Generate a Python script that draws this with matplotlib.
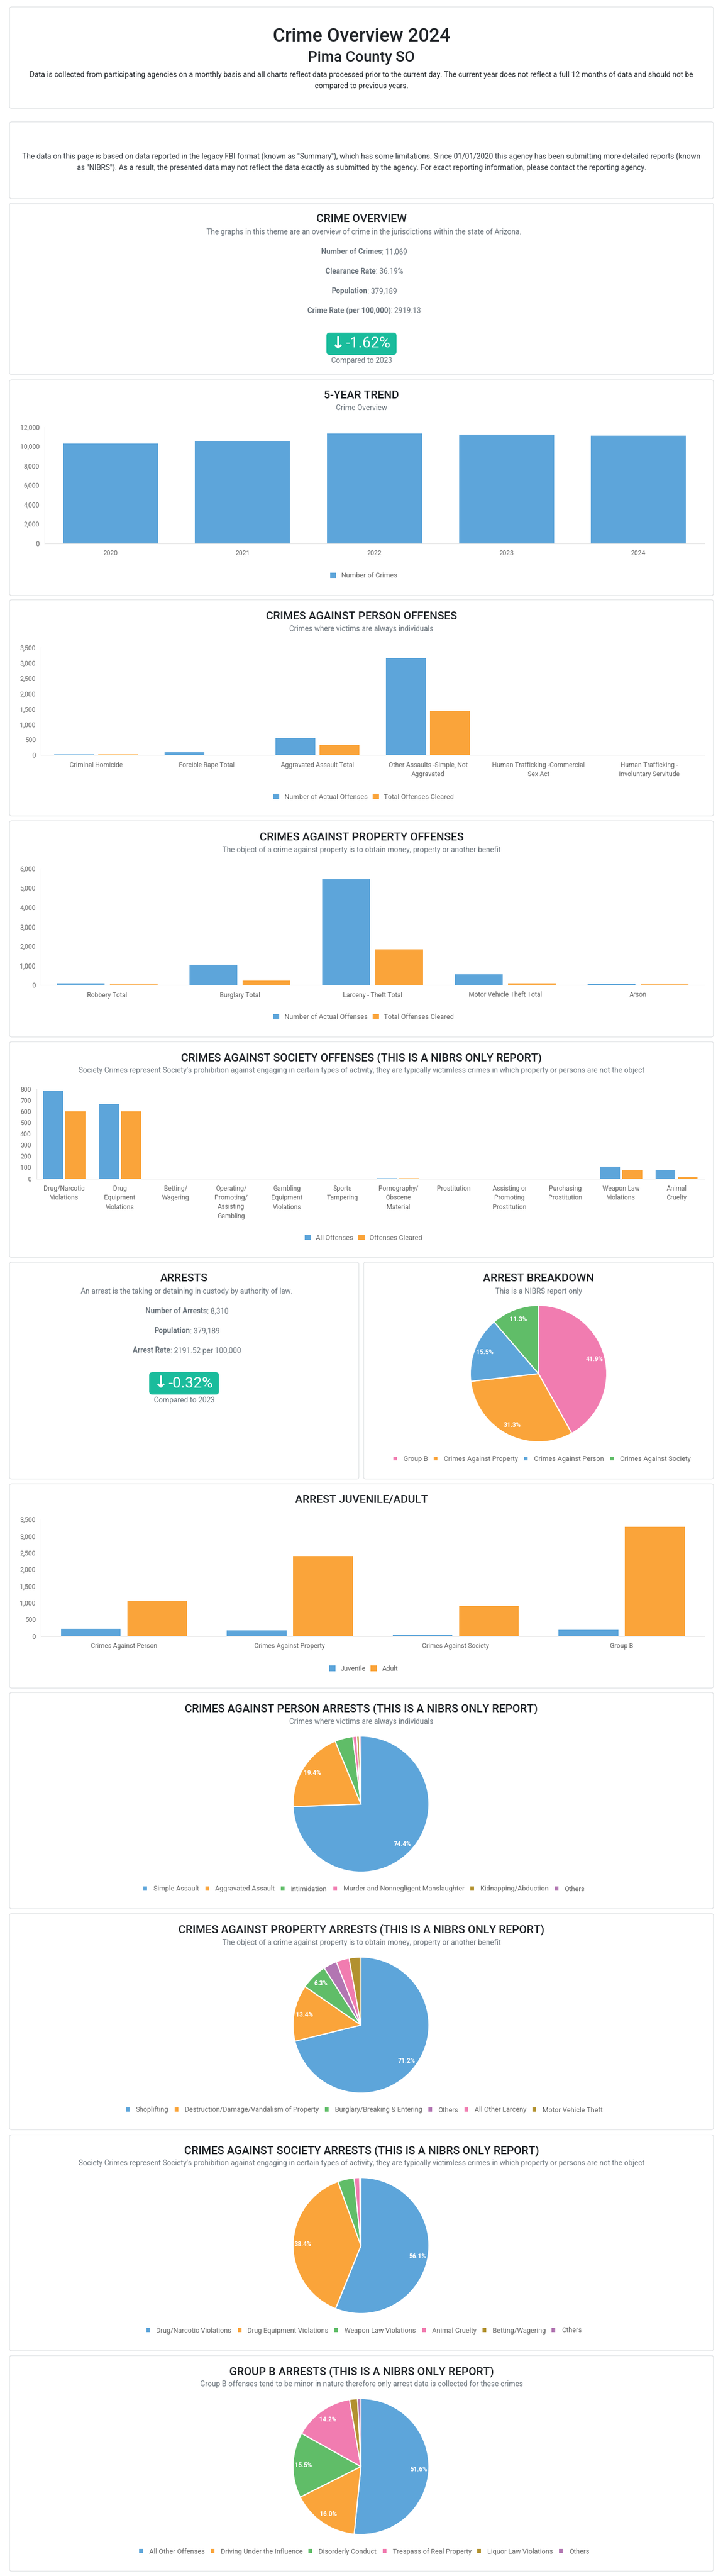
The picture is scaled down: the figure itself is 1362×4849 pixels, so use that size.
import matplotlib
matplotlib.use("Agg")
import matplotlib.pyplot as plt
from matplotlib.patches import FancyBboxPatch, Patch

W = 1362
H = 4849
plt.rcParams['font.family'] = ['Roboto', 'DejaVu Sans']

BLUE = '#5DA5DA'
ORANGE = '#FAA43A'
GREEN = '#60BD68'
PINK = '#F17CB0'
GOLD = '#B2912F'
PURPLE = '#B276B2'
DARK = '#212529'
GRAY = '#6c757d'
TICK = '#666666'
TEAL = '#1ABC9C'
LEGEND_SIZE = 9.3
TICK_SIZE = 8.8

# data
trend_years = ['2020', '2021', '2022', '2023', '2024']
trend_crimes = [10250, 10485, 11317, 11198, 11069]

person_cats = ['Criminal Homicide', 'Forcible Rape Total', 'Aggravated Assault Total',
               'Other Assaults -Simple, Not\nAggravated', 'Human Trafficking -Commercial\nSex Act',
               'Human Trafficking -\nInvoluntary Servitude']
person_actual = [28, 94, 561, 3154, 1, 2]
person_cleared = [28, 8, 337, 1432, 0, 1]

property_cats = ['Robbery Total', 'Burglary Total', 'Larceny - Theft Total',
                 'Motor Vehicle Theft Total', 'Arson']
property_actual = [80, 1049, 5450, 557, 50]
property_cleared = [36, 224, 1831, 80, 36]

society_cats = ['Drug/Narcotic\nViolations', 'Drug\nEquipment\nViolations', 'Betting/\nWagering',
                'Operating/\nPromoting/\nAssisting\nGambling', 'Gambling\nEquipment\nViolations',
                'Sports\nTampering', 'Pornography/\nObscene\nMaterial', 'Prostitution',
                'Assisting or\nPromoting\nProstitution', 'Purchasing\nProstitution',
                'Weapon Law\nViolations', 'Animal\nCruelty']
society_all = [785, 665, 0, 0, 0, 0, 4, 0, 0, 0, 105, 78]
society_cleared = [599, 602, 0, 0, 0, 0, 2, 0, 0, 0, 80, 13]

juvenile_cats = ['Crimes Against Person', 'Crimes Against Property', 'Crimes Against Society', 'Group B']
juvenile_vals = [225, 175, 42, 192]
adult_vals = [1058, 2408, 900, 3283]

breakdown_labels = ['Group B', 'Crimes Against Property', 'Crimes Against Person', 'Crimes Against Society']
breakdown_vals = [41.9, 31.3, 15.5, 11.3]

person_arrest_labels = ['Simple Assault', 'Aggravated Assault', 'Intimidation',
                        'Murder and Nonnegligent Manslaughter', 'Kidnapping/Abduction', 'Others']
person_arrest_vals = [74.4, 19.4, 4.3, 0.9, 0.6, 0.4]

property_arrest_labels = ['Shoplifting', 'Destruction/Damage/Vandalism of Property',
                          'Burglary/Breaking & Entering', 'Others', 'All Other Larceny', 'Motor Vehicle Theft']
property_arrest_vals = [71.2, 13.4, 6.3, 3.2, 3.1, 2.8]

society_arrest_labels = ['Drug/Narcotic Violations', 'Drug Equipment Violations', 'Weapon Law Violations',
                         'Animal Cruelty', 'Betting/Wagering', 'Others']
society_arrest_vals = [56.1, 38.4, 3.9, 1.3, 0.2, 0.1]

groupb_labels = ['All Other Offenses', 'Driving Under the Influence', 'Disorderly Conduct',
                 'Trespass of Real Property', 'Liquor Law Violations', 'Others']
groupb_vals = [51.6, 16.0, 15.5, 14.2, 1.9, 0.8]

pie_colors_a = [BLUE, ORANGE, GREEN, PINK, GOLD, PURPLE]
pie_colors_b = [BLUE, ORANGE, GREEN, PURPLE, PINK, GOLD]

fig = plt.figure(figsize=(W / 100, H / 100), dpi=100, facecolor='white')
bg = fig.add_axes([0, 0, 1, 1])
bg.set_xlim(0, W)
bg.set_ylim(H, 0)
bg.axis('off')


def card(x0, y0, x1, y1):
    bg.add_patch(FancyBboxPatch((x0, y0), x1 - x0, y1 - y0, boxstyle='round,pad=0,rounding_size=4',
                                fc='white', ec='#dcdfe2', lw=0.8))


def txt(x, y, s, size=10, color=GRAY, weight='normal'):
    return bg.text(x, y + 1, s, fontsize=size, color=color, weight=weight, ha='center', va='center')


def head(x, y, s):
    return txt(x, y + 0.5, s, 15, DARK, 'medium')


def stat(cx, y, label, value):
    # bold label and plain value side by side
    a = bg.text(0, y + 1, label, fontsize=10, color=GRAY, weight='bold', va='center')
    b = bg.text(0, y + 1, value, fontsize=10, color=GRAY, va='center')
    r = fig.canvas.get_renderer()
    wa = a.get_window_extent(r).width
    wb = b.get_window_extent(r).width
    a.set_x(cx - (wa + wb) / 2)
    b.set_x(cx - (wa + wb) / 2 + wa)


def badge(x0, y0, x1, y1, s, size=20.5):
    bg.add_patch(FancyBboxPatch((x0, y0), x1 - x0, y1 - y0, boxstyle='round,pad=0,rounding_size=6',
                                fc=TEAL, ec='none'))
    bg.text(x0 + 22, (y0 + y1) / 2, '\u2193', fontsize=size + 2, color='white', weight='bold',
            family='DejaVu Sans', ha='center', va='center')
    bg.text(x0 + 36, (y0 + y1) / 2, s, fontsize=size, color='white', ha='left', va='center')


def legend(cx, y, labels, colors, box=0.89, textpad=0.74, colspace=0.74):
    handles = [Patch(fc=c, ec='none', lw=0) for c in colors]
    fig.legend(handles, labels, loc='center', bbox_to_anchor=(cx / W, 1 - y / H), ncol=len(labels),
               frameon=False, fontsize=LEGEND_SIZE, labelcolor=TICK, handlelength=box, handleheight=box,
               handletextpad=textpad, columnspacing=colspace, borderpad=0, borderaxespad=0)


def bars(left, top, right, bottom, cats, series, colors, ymax, step, width=0.36, off=0.2):
    ax = fig.add_axes([left / W, 1 - bottom / H, (right - left) / W, (bottom - top) / H])
    xs = list(range(len(cats)))
    n = len(series)
    for i, (vals, col) in enumerate(zip(series, colors)):
        pos = [x + (i - (n - 1) / 2) * 2 * off for x in xs]
        ax.bar(pos, vals, width=width, color=col)
    ax.set_xlim(-0.5, len(cats) - 0.5)
    ax.set_ylim(0, ymax)
    ax.set_yticks(range(0, ymax + 1, step))
    ax.set_yticklabels([f'{v:,}' for v in range(0, ymax + 1, step)])
    ax.set_xticks(xs)
    ax.set_xticklabels(cats, linespacing=1.42)
    ax.tick_params(length=0, labelsize=TICK_SIZE, labelcolor=TICK)
    ax.tick_params(axis='y', pad=7)
    ax.tick_params(axis='x', pad=9)
    for side in ['top', 'right']:
        ax.spines[side].set_visible(False)
    for side in ['left', 'bottom']:
        ax.spines[side].set_color('#e3e3e3')
        ax.spines[side].set_linewidth(0.8)
        ax.spines[side].set_zorder(0.5)
    ax.patch.set_alpha(0)
    return ax


def pie(cx, cy, r, vals, colors):
    # axes a little larger than the pie so the edge is not clipped
    m = 1.02
    ax = fig.add_axes([(cx - r * m) / W, 1 - (cy + r * m) / H, 2 * r * m / W, 2 * r * m / H])
    ax.pie(vals, colors=colors, startangle=90, counterclock=False, radius=1,
           wedgeprops=dict(edgecolor='white', linewidth=1.5),
           autopct=lambda p: f'{p:.1f}%' if p >= 5 else '', pctdistance=0.85,
           textprops=dict(color='white', fontsize=8.6, weight='bold'))
    ax.set_xlim(-m, m)
    ax.set_ylim(-m, m)
    ax.patch.set_alpha(0)


def pie_legend(cx, y, labels, colors):
    legend(cx, y, labels, colors, box=0.54, textpad=0.92, colspace=0.88)


# header cards
card(18, 13, 1344, 204)
txt(681, 68, 'Crime Overview 2024', 25.2, DARK, 'medium')
txt(681, 107, 'Pima County SO', 20, DARK, 'medium')
txt(681, 140, 'Data is collected from participating agencies on a monthly basis and all charts reflect data '
    'processed prior to the current day. The current year does not reflect a full 12 months of data and should not be', 10.05, DARK)
txt(681, 161, 'compared to previous years.', 10.05, DARK)

card(18, 229.5, 1344, 374)
txt(681, 294, 'The data on this page is based on data reported in the legacy FBI format (known as "Summary"), '
    'which has some limitations. Since 01/01/2020 this agency has been submitting more detailed reports (known', 10.05, '#343a40')
txt(681, 315, 'as "NIBRS"). As a result, the presented data may not reflect the data exactly as submitted by the '
    'agency. For exact reporting information, please contact the reporting agency.', 10.05, '#343a40')

card(18, 382.5, 1344, 705)
head(681, 411.5, 'CRIME OVERVIEW')
txt(686, 436, 'The graphs in this theme are an overview of crime in the jurisdictions within the state of Arizona.', 10)
stat(686, 473, 'Number of Crimes', ': 11,069')
stat(686, 510, 'Clearance Rate', ': 36.19%')
stat(686, 547, 'Population', ': 379,189')
stat(686, 584, 'Crime Rate (per 100,000)', ': 2919.13')
badge(615, 626, 747, 668, '-1.62%')
txt(681, 678, 'Compared to 2023', 10)

# bar cards
card(18, 715, 1344, 1121)
head(681, 743.5, '5-YEAR TREND')
txt(681, 767, 'Crime Overview', 10)
bars(84, 803.5, 1327, 1022.5, trend_years, [trend_crimes], [BLUE], 12000, 2000, width=0.72, off=0)
legend(685, 1084, ['Number of Crimes'], [BLUE])

card(18, 1129, 1344, 1536)
head(681, 1159, 'CRIMES AGAINST PERSON OFFENSES')
txt(681, 1183, 'Crimes where victims are always individuals', 10)
bars(77, 1218.7, 1327, 1421.4, person_cats, [person_actual, person_cleared], [BLUE, ORANGE], 3500, 500)
legend(685, 1500, ['Number of Actual Offenses', 'Total Offenses Cleared'], [BLUE, ORANGE])

card(18, 1545, 1344, 1952)
head(681, 1574.5, 'CRIMES AGAINST PROPERTY OFFENSES')
txt(681, 1599, 'The object of a crime against property is to obtain money, property or another benefit', 10)
bars(77, 1634.7, 1327, 1854, property_cats, [property_actual, property_cleared], [BLUE, ORANGE], 6000, 1000)
legend(685, 1915, ['Number of Actual Offenses', 'Total Offenses Cleared'], [BLUE, ORANGE])

card(18, 1961, 1344, 2367)
head(681, 1990.5, 'CRIMES AGAINST SOCIETY OFFENSES (THIS IS A NIBRS ONLY REPORT)')
txt(681, 2014, "Society Crimes represent Society's prohibition against engaging in certain types of activity, "
    'they are typically victimless crimes in which property or persons are not the object', 10)
bars(68.5, 2049.7, 1327, 2218.6, society_cats, [society_all, society_cleared], [BLUE, ORANGE], 800, 100)
legend(685, 2330, ['All Offenses', 'Offenses Cleared'], [BLUE, ORANGE])

# arrests row
card(18, 2376, 676, 2784)
head(347, 2405.5, 'ARRESTS')
txt(352, 2430, 'An arrest is the taking or detaining in custody by authority of law.', 10)
stat(352, 2467, 'Number of Arrests', ': 8,310')
stat(352, 2504, 'Population', ': 379,189')
stat(352, 2541.5, 'Arrest Rate', ': 2191.52 per 100,000')
badge(281, 2583, 412.5, 2625, '-0.32%')
txt(347, 2635, 'Compared to 2023', 10)

card(685, 2376, 1344, 2784)
head(1014.5, 2405.5, 'ARREST BREAKDOWN')
txt(1014.5, 2430, 'This is a NIBRS report only', 10)
pie(1014.5, 2585.7, 128.5, breakdown_vals, [PINK, ORANGE, BLUE, GREEN])
pie_legend(1021, 2746.6, breakdown_labels, [PINK, ORANGE, BLUE, GREEN])

card(18, 2793, 1344, 3177.5)
head(681, 2822, 'ARREST JUVENILE/ADULT')
bars(77, 2860, 1327, 3079.7, juvenile_cats, [juvenile_vals, adult_vals], [BLUE, ORANGE], 3500, 500)
legend(685, 3141.5, ['Juvenile', 'Adult'], [BLUE, ORANGE])

# pie cards
card(18, 3186, 1344, 3593)
head(681, 3215.5, 'CRIMES AGAINST PERSON ARRESTS (THIS IS A NIBRS ONLY REPORT)')
txt(681, 3240, 'Crimes where victims are always individuals', 10)
pie(680, 3396, 128, person_arrest_vals, pie_colors_a)
pie_legend(686, 3556, person_arrest_labels, pie_colors_a)

card(18, 3602, 1344, 4009)
head(681, 3631.5, 'CRIMES AGAINST PROPERTY ARRESTS (THIS IS A NIBRS ONLY REPORT)')
txt(681, 3656, 'The object of a crime against property is to obtain money, property or another benefit', 10)
pie(680, 3812, 128, property_arrest_vals, pie_colors_b)
pie_legend(686, 3972, property_arrest_labels, pie_colors_b)

card(18, 4018.5, 1344, 4425)
head(681, 4047.5, 'CRIMES AGAINST SOCIETY ARRESTS (THIS IS A NIBRS ONLY REPORT)')
txt(681, 4071, "Society Crimes represent Society's prohibition against engaging in certain types of activity, "
    'they are typically victimless crimes in which property or persons are not the object', 10)
pie(680, 4227, 128, society_arrest_vals, pie_colors_a)
pie_legend(686, 4387, society_arrest_labels, pie_colors_a)

card(18, 4434, 1344, 4840)
head(681, 4463, 'GROUP B ARRESTS (THIS IS A NIBRS ONLY REPORT)')
txt(681, 4487, 'Group B offenses tend to be minor in nature therefore only arrest data is collected for these crimes', 10)
pie(680, 4643, 128, groupb_vals, pie_colors_a)
pie_legend(686, 4803.4, groupb_labels, pie_colors_a)

fig.savefig('out.png', dpi=100)
